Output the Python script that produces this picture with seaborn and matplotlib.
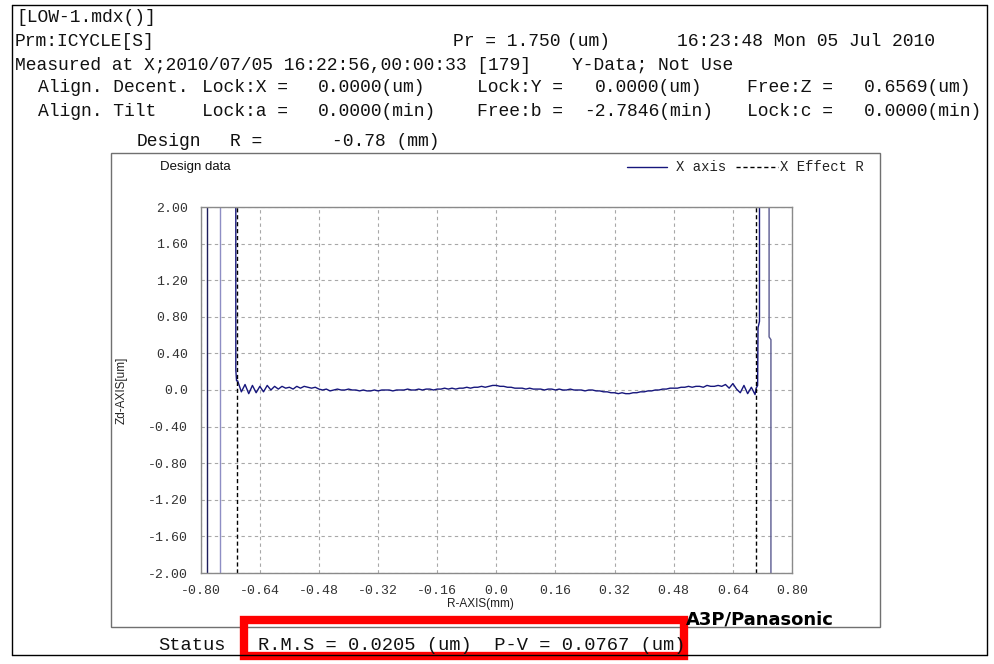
import numpy as np
import pandas as pd
import matplotlib
matplotlib.use("Agg")
import matplotlib.pyplot as plt
from matplotlib.lines import Line2D
from matplotlib.patches import Rectangle
import seaborn as sns

# ---------------- data ----------------
header_rows = [
    # (text, x_px, y_px)
    ("[LOW-1.mdx()]", 16, 17),
    ("Prm:ICYCLE[S]", 15, 41),
    ("Pr = 1.750", 453, 41),
    ("(um)", 567, 41),
    ("16:23:48 Mon 05 Jul 2010", 677, 41),
    ("Measured at X;2010/07/05 16:22:56,00:00:33 [179]", 15, 65),
    ("Y-Data; Not Use", 572, 65),
    ("Align. Decent.", 38, 88),
    ("Lock:X =", 202, 88),
    ("0.0000(um)", 318, 88),
    ("Lock:Y =", 477, 88),
    ("0.0000(um)", 595, 88),
    ("Free:Z =", 747, 88),
    ("0.6569(um)", 864, 88),
    ("Align. Tilt", 38, 111),
    ("Lock:a =", 202, 111),
    ("0.0000(min)", 318, 111),
    ("Free:b =", 477, 111),
    ("-2.7846(min)", 584, 111),
    ("Lock:c =", 747, 111),
    ("0.0000(min)", 864, 111),
    ("Design", 137, 142),
    ("R =", 230, 142),
    ("-0.78 (mm)", 332, 142),
]
status_label = "Status"
status_text = "R.M.S = 0.0205 (um)  P-V = 0.0767 (um)"
brand_text = "A3P/Panasonic"
panel_title = "Design data"
legend_names = ["X axis", "X Effect R"]
x_label = "R-AXIS(mm)"
y_label = "Zd-AXIS[um]"

x_ticks = [-0.80, -0.64, -0.48, -0.32, -0.16, 0.0, 0.16, 0.32, 0.48, 0.64, 0.80]
x_tick_labels = ["-0.80", "-0.64", "-0.48", "-0.32", "-0.16", "0.0",
                 "0.16", "0.32", "0.48", "0.64", "0.80"]
y_ticks = [2.0, 1.6, 1.2, 0.8, 0.4, 0.0, -0.4, -0.8, -1.2, -1.6, -2.0]
y_tick_labels = ["2.00", "1.60", "1.20", "0.80", "0.40", "0.0",
                 "-0.40", "-0.80", "-1.20", "-1.60", "-2.00"]

# measured profile (um) sampled every 0.01 mm from -0.70 to 0.70
profile_x = np.round(np.linspace(-0.70, 0.70, 141), 2)
profile_z = [
    0.10, -0.02, 0.06, -0.04, 0.05, -0.03, 0.04, -0.02, 0.05, 0.00, 0.04,
    0.01, 0.04, 0.02, 0.03, 0.01, 0.04, 0.02, 0.04, 0.03, 0.02,
    0.03, 0.01, 0.00, 0.01, -0.01, 0.00, 0.01, 0.00, 0.00, 0.01,
    0.00, 0.00, -0.01, 0.00, -0.01, -0.01, 0.00, -0.01, 0.00, 0.00,
    0.00, -0.01, 0.00, 0.00, 0.00, 0.01, 0.00, 0.00, 0.01, 0.00,
    0.01, 0.01, 0.00, 0.01, 0.01, 0.02, 0.01, 0.02, 0.01, 0.02,
    0.02, 0.03, 0.02, 0.03, 0.03, 0.04, 0.03, 0.04, 0.05, 0.05,
    0.04, 0.04, 0.03, 0.03, 0.02, 0.02, 0.02, 0.01, 0.02, 0.01,
    0.01, 0.01, 0.00, 0.01, 0.01, 0.00, 0.01, 0.00, 0.00, 0.01,
    0.00, 0.00, 0.00, -0.01, 0.00, 0.00, -0.01, -0.01, -0.02, -0.02,
    -0.03, -0.03, -0.04, -0.03, -0.04, -0.04, -0.03, -0.03, -0.02, -0.02,
    -0.01, -0.01, 0.00, 0.00, 0.01, 0.01, 0.02, 0.02, 0.02, 0.03,
    0.03, 0.04, 0.03, 0.04, 0.04, 0.03, 0.05, 0.04, 0.04, 0.05,
    0.04, 0.06, 0.02, 0.07, 0.01, -0.03, 0.05, -0.04, 0.03, -0.05,
]
# edge parts of the profile, going off scale
left_edge_x = [-0.705, -0.705, -0.703]
left_edge_z = [2.6, 0.22, 0.10]
right_edge_x = [0.703, 0.707, 0.708, 0.712, 0.712]
right_edge_z = [0.02, 0.05, 0.68, 0.75, 2.6]
outer_left1_x = [-0.782, -0.782]
outer_left1_z = [-2.6, 2.6]
outer_left2_x = [-0.747, -0.747]
outer_left2_z = [-2.6, 2.6]
outer_right_x = [0.738, 0.738, 0.743, 0.743]
outer_right_z = [2.6, 0.58, 0.55, -2.6]
effect_r = 0.703

# ---------------- build frames ----------------
main_x = list(left_edge_x) + list(profile_x) + list(right_edge_x)
main_z = list(left_edge_z) + list(profile_z) + list(right_edge_z)
segs = []
def add(name, xs, zs):
    segs.append(pd.DataFrame({"x": xs, "z": zs, "seg": name}))
add("profile", main_x, main_z)
add("outer1", outer_left1_x, outer_left1_z)
add("outer2", outer_left2_x, outer_left2_z)
add("outer3", outer_right_x, outer_right_z)
df = pd.concat(segs, ignore_index=True)
eff = pd.DataFrame({"x": [-effect_r, -effect_r, effect_r, effect_r],
                    "z": [-2.0, 2.0, -2.0, 2.0],
                    "side": ["L", "L", "R", "R"]})

# ---------------- figure ----------------
sns.set_style("white")
W, H = 995, 664
fig = plt.figure(figsize=(W / 100, H / 100), dpi=100)
fig.patch.set_facecolor("white")

def fx(x):
    return x / W

def fy(y):
    return 1 - y / H

mono = "Liberation Mono"
sans = "Liberation Sans"

# outer frame
for (x0, y0, x1, y1) in [(12, 5, 987, 5), (12, 5, 12, 655), (987, 5, 987, 655), (12, 655, 987, 655)]:
    fig.add_artist(Line2D([fx(x0), fx(x1)], [fy(y0), fy(y1)], color="black", lw=1.0))

# inner chart box
fig.add_artist(Rectangle((fx(111), fy(627)), fx(880) - fx(111), fy(153) - fy(627),
                         fill=False, edgecolor="#707070", lw=1.0, transform=fig.transFigure))

# header text
for txt, x, y in header_rows:
    fig.text(fx(x), fy(y), txt, family=mono, fontsize=13, color="#111111",
             ha="left", va="center")

# axes
L, R, T, B = 200.7, 792, 207, 573
ax = fig.add_axes([fx(L), fy(B), (R - L) / W, (B - T) / H])
ax.set_facecolor("white")

sns.lineplot(data=df, x="x", y="z", hue="seg", units="seg", estimator=None, sort=False,
             palette={"profile": "#16167c", "outer1": "#1e1e5c",
                      "outer2": "#8e8ec4", "outer3": "#5a5a90"},
             linewidth=1.0, legend=False, ax=ax)
sns.lineplot(data=eff, x="x", y="z", units="side", estimator=None, sort=False,
             color="black", linewidth=1.0, linestyle=(0, (3, 2)), legend=False, ax=ax)

ax.set_xlim(-0.80, 0.80)
ax.set_ylim(-2.0, 2.0)
ax.set_xticks(x_ticks)
ax.set_xticklabels(x_tick_labels)
ax.set_yticks(y_ticks)
ax.set_yticklabels(y_tick_labels)
ax.tick_params(length=0, labelsize=9.5, labelcolor="#333333", pad=9)
for lab in ax.get_xticklabels() + ax.get_yticklabels():
    lab.set_family(mono)
ax.grid(True, color="#a8a8a8", linestyle=(0, (3, 3)), linewidth=0.8)
ax.set_axisbelow(True)
for s in ax.spines.values():
    s.set_color("#8a8a8a")
    s.set_linewidth(1.0)
ax.set_xlabel("")
ax.set_ylabel("")

# axis labels
fig.text(fx(480), fy(604), x_label, family=sans, fontsize=8.5, color="#222222",
         ha="center", va="center")
fig.text(fx(122), fy(390), y_label, family=sans, fontsize=8.5, color="#222222",
         ha="center", va="center", rotation=90)

# panel title
fig.text(fx(160), fy(167), panel_title, family=sans, fontsize=9.5, color="#111111",
         ha="left", va="center")

# legend
fig.add_artist(Line2D([fx(627), fx(667)], [fy(167), fy(167)], color="#16167c", lw=1.0))
fig.text(fx(676), fy(167), legend_names[0], family=mono, fontsize=10, color="#222222",
         ha="left", va="center")
fig.add_artist(Line2D([fx(736), fx(778)], [fy(167), fy(167)], color="black", lw=1.0,
                      linestyle=(0, (3, 2))))
fig.text(fx(780), fy(167), legend_names[1], family=mono, fontsize=10, color="#222222",
         ha="left", va="center")

# brand
fig.text(fx(686), fy(619), brand_text, family="DejaVu Sans", fontweight="bold",
         fontsize=13, color="black", ha="left", va="center")

# status row
fig.text(fx(158), fy(645), status_label, family=mono, fontsize=13.5, color="#111111",
         ha="left", va="center")
fig.text(fx(258), fy(645), status_text, family=mono, fontsize=13.5, color="#111111",
         ha="left", va="center")
fig.add_artist(Rectangle((fx(244), fy(656)), fx(684) - fx(244), fy(620) - fy(656),
                         fill=False, edgecolor="#ff0000", lw=6.0, transform=fig.transFigure))

fig.savefig("out.png", dpi=100)
